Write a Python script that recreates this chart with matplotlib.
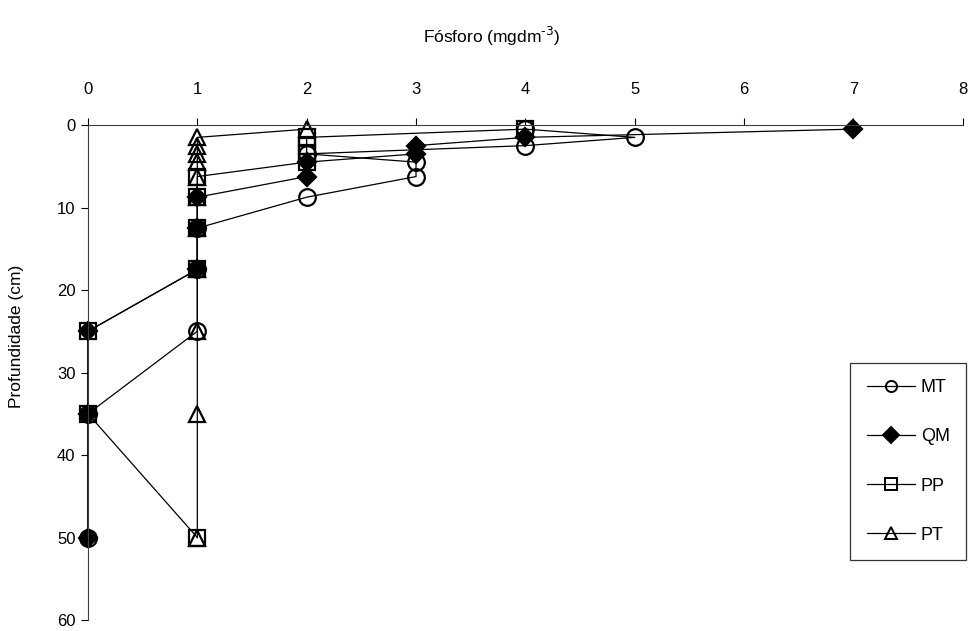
import matplotlib
matplotlib.use("Agg")
from matplotlib import pyplot as plt

# Profundidade media de cada camada (cm)
prof = [0.5, 1.5, 2.5, 3.5, 4.5, 6.25, 8.75, 12.5, 17.5, 25, 35, 50]

# Fosforo (mg dm-3) em cada sistema
mt = [4, 5, 4, 2, 3, 3, 2, 1, 1, 1, 0, 0]
qm = [7, 4, 3, 3, 2, 2, 1, 1, 1, 0, 0, 0]
pp = [4, 2, 2, 2, 2, 1, 1, 1, 1, 0, 0, 1]
pt = [2, 1, 1, 1, 1, 1, 1, 1, 1, 1, 1, 1]

plt.rcParams['font.family'] = ['Liberation Sans', 'DejaVu Sans']

fig = plt.figure(figsize=(9.72, 6.31), dpi=100)
ax = fig.add_axes([0.0905, 0.0174, 0.900, 0.7845])

estilo = dict(color='black', linewidth=0.9, markersize=12, markeredgewidth=1.6,
              clip_on=False)
ax.plot(mt, prof, marker='o', markerfacecolor='none', label='MT', **estilo)
ax.plot(qm, prof, marker='D', markerfacecolor='black', label='QM',
        **{**estilo, 'markersize': 9})
ax.plot(pp, prof, marker='s', markerfacecolor='none', label='PP', **estilo)
ax.plot(pt, prof, marker='^', markerfacecolor='none', label='PT', **estilo)

# Eixo x no topo, profundidade crescendo para baixo
ax.set_xlim(0, 8)
ax.set_ylim(60, 0)
ax.xaxis.tick_top()
ax.xaxis.set_label_position('top')
ax.set_xticks(range(0, 9))
ax.set_yticks(range(0, 61, 10))
ax.tick_params(direction='out', length=5, width=0.8, labelsize=12)
ax.tick_params(axis='x', pad=15)
ax.tick_params(axis='y', pad=4)
for lado in ['right', 'bottom']:
    ax.spines[lado].set_visible(False)
for lado in ['left', 'top']:
    ax.spines[lado].set_linewidth(0.8)
    ax.spines[lado].set_color('#404040')

ax.set_xlabel(r'Fósforo (mgdm$^{\text{-3}}$)', fontsize=12.5, labelpad=28, x=0.462)
ax.set_ylabel('Profundidade (cm)', fontsize=12.5, labelpad=24, y=0.572)

leg = ax.legend(loc='upper left', bbox_to_anchor=(0.8715, 0.519), fontsize=13,
                frameon=True, fancybox=False, edgecolor='black',
                handlelength=2.7, labelspacing=1.78, borderpad=0.9,
                handletextpad=0.3, borderaxespad=0)
leg.get_frame().set_linewidth(0.9)
for linha in leg.get_lines():
    linha.set_markersize(8)
    linha.set_markeredgewidth(1.4)

fig.savefig('out.png', dpi=100)
